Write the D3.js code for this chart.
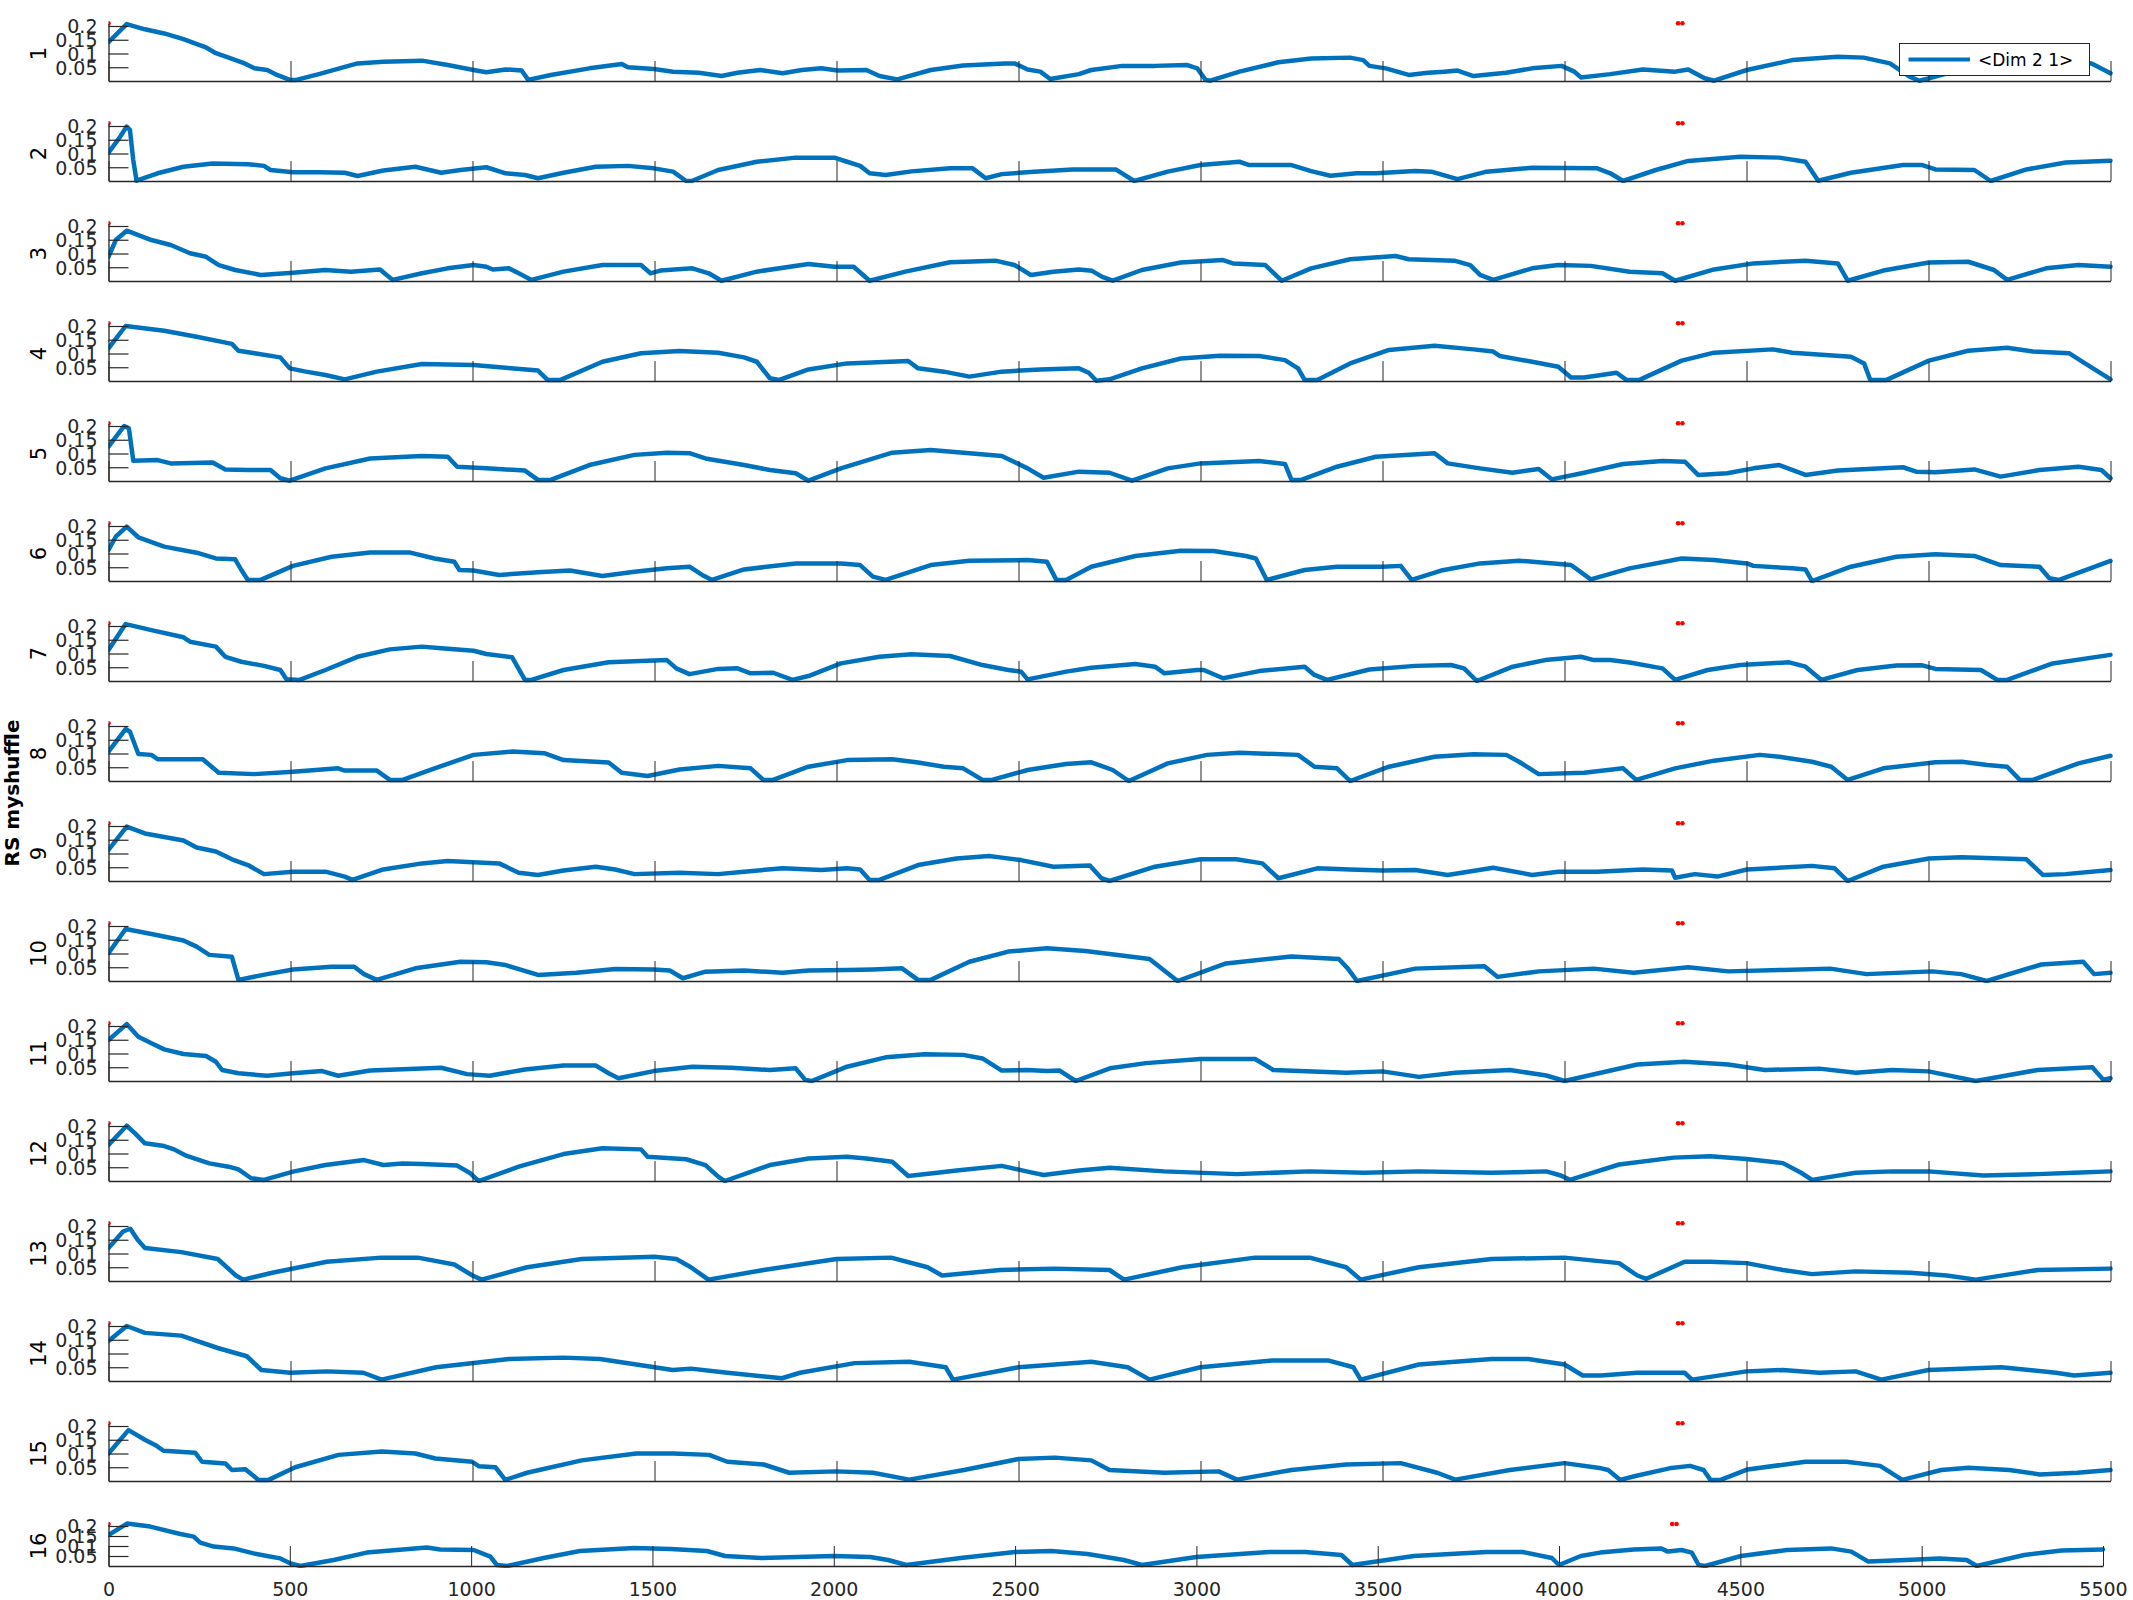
<!DOCTYPE html>
<html><head><meta charset="utf-8">
<script src="https://cdn.jsdelivr.net/npm/d3@7"></script>
<style>body{margin:0;background:#fff}svg{display:block}text{font-family:"DejaVu Sans",sans-serif}</style>
</head><body>
<svg id="chart" width="2133" height="1600"></svg>
<script>
// ---------- data (x = sample index, y = value) ----------
const panelLabels = ["1","2","3","4","5","6","7","8","9","10","11","12","13","14","15","16"];
const xTicks = [0,500,1000,1500,2000,2500,3000,3500,4000,4500,5000,5500];
const yTicks = [0.05,0.1,0.15,0.2];
const yTickLabels = ["0.05","0.1","0.15","0.2"];
const markerX = [0,4312,4324];
const markerY = [0.21,0.21,0.21];
const legendLabel = "<Dim 2 1>";
const yAxisTitle = "RS myshuffle";

const s1 = [[0,0.141],[50,0.207],[100,0.188],[153,0.173],[206,0.152],[241,0.135],[268,0.122],[295,0.101],[330,0.085],[374,0.064],[401,0.046],[436,0.04],[463,0.022],[498,0.004],[516,0.004],[578,0.025],[684,0.064],[755,0.070],[861,0.074],[932,0.058],[1003,0.040],[1038,0.032],[1091,0.042],[1135,0.038],[1153,0.004],[1215,0.022],[1321,0.046],[1410,0.062],[1427,0.05],[1498,0.044],[1551,0.034],[1622,0.030],[1684,0.018],[1728,0.030],[1790,0.040],[1852,0.028],[1905,0.040],[1958,0.046],[2003,0.038],[2082,0.040],[2118,0.018],[2167,0.006],[2259,0.040],[2348,0.056],[2463,0.064],[2489,0.064],[2525,0.042],[2560,0.034],[2587,0.007],[2666,0.025],[2700,0.04],[2785,0.055],[2875,0.055],[2964,0.058],[2991,0.046],[3014,0.004],[3027,0.001],[3107,0.034],[3214,0.068],[3304,0.082],[3411,0.085],[3447,0.076],[3464,0.055],[3509,0.046],[3572,0.022],[3625,0.030],[3670,0.034],[3706,0.038],[3750,0.018],[3840,0.030],[3911,0.046],[3992,0.055],[4027,0.034],[4045,0.013],[4126,0.025],[4215,0.042],[4304,0.034],[4340,0.042],[4385,0.010],[4411,0.001],[4501,0.040],[4626,0.076],[4751,0.088],[4822,0.085],[4894,0.064],[4948,0.016],[4975,0.001],[5019,0.016],[5100,0.045],[5250,0.065],[5380,0.075],[5448,0.064],[5500,0.028]];
const s2 = [[0,0.103],[29,0.155],[50,0.198],[59,0.185],[68,0.076],[77,0.001],[135,0.028],[206,0.052],[286,0.064],[383,0.061],[427,0.055],[445,0.040],[507,0.032],[578,0.032],[649,0.030],[684,0.018],[755,0.038],[843,0.052],[914,0.030],[967,0.040],[1038,0.050],[1091,0.028],[1144,0.022],[1180,0.010],[1250,0.030],[1339,0.052],[1427,0.055],[1498,0.046],[1551,0.034],[1587,0.0],[1604,0.001],[1675,0.040],[1781,0.070],[1888,0.085],[1994,0.085],[2029,0.070],[2065,0.055],[2091,0.028],[2135,0.022],[2206,0.035],[2312,0.046],[2374,0.046],[2410,0.010],[2454,0.025],[2543,0.034],[2649,0.042],[2767,0.042],[2818,0.0],[2910,0.034],[3000,0.058],[3107,0.070],[3134,0.058],[3250,0.058],[3304,0.036],[3357,0.019],[3429,0.028],[3482,0.028],[3590,0.036],[3634,0.034],[3706,0.007],[3786,0.034],[3911,0.048],[4090,0.046],[4126,0.028],[4161,0.0],[4251,0.040],[4340,0.073],[4483,0.088],[4590,0.085],[4662,0.070],[4697,0.001],[4787,0.030],[4930,0.058],[4983,0.058],[5019,0.042],[5126,0.040],[5171,0.0],[5269,0.042],[5377,0.067],[5500,0.074]];
const s3 = [[0,0.088],[20,0.149],[50,0.183],[118,0.149],[171,0.131],[224,0.101],[268,0.088],[303,0.058],[348,0.040],[418,0.022],[507,0.030],[595,0.040],[666,0.034],[746,0.042],[764,0.022],[781,0.004],[861,0.028],[932,0.046],[1003,0.058],[1038,0.052],[1056,0.042],[1100,0.046],[1127,0.028],[1162,0.004],[1250,0.034],[1357,0.058],[1463,0.058],[1489,0.028],[1516,0.038],[1604,0.046],[1649,0.028],[1684,0.001],[1781,0.034],[1923,0.062],[1994,0.052],[2047,0.052],[2091,0.001],[2189,0.034],[2312,0.068],[2436,0.074],[2489,0.058],[2534,0.022],[2596,0.034],[2666,0.042],[2702,0.037],[2730,0.015],[2759,0.001],[2839,0.040],[2946,0.067],[3062,0.076],[3089,0.064],[3178,0.058],[3223,0.001],[3304,0.046],[3411,0.079],[3536,0.091],[3572,0.079],[3697,0.074],[3741,0.058],[3768,0.022],[3804,0.004],[3911,0.046],[3983,0.058],[4072,0.055],[4179,0.034],[4269,0.028],[4304,0.001],[4411,0.042],[4519,0.064],[4662,0.074],[4751,0.064],[4778,0.001],[4876,0.038],[5001,0.067],[5109,0.070],[5180,0.040],[5216,0.004],[5323,0.046],[5412,0.058],[5500,0.052]];
const s4 = [[0,0.119],[47,0.200],[153,0.183],[242,0.161],[339,0.135],[357,0.110],[401,0.101],[472,0.086],[498,0.046],[542,0.034],[596,0.022],[649,0.006],[737,0.034],[861,0.062],[1003,0.058],[1091,0.048],[1180,0.038],[1206,0.004],[1242,0.004],[1357,0.070],[1463,0.101],[1569,0.109],[1675,0.103],[1746,0.086],[1781,0.070],[1817,0.010],[1843,0.004],[1923,0.042],[2029,0.064],[2197,0.073],[2224,0.046],[2295,0.034],[2365,0.016],[2454,0.034],[2560,0.042],[2666,0.046],[2693,0.030],[2714,0.001],[2750,0.006],[2839,0.046],[2946,0.082],[3053,0.092],[3161,0.091],[3232,0.076],[3268,0.046],[3286,0.004],[3321,0.004],[3411,0.064],[3518,0.113],[3643,0.128],[3750,0.115],[3804,0.107],[3822,0.091],[3911,0.070],[3983,0.052],[4018,0.013],[4054,0.013],[4143,0.030],[4170,0.004],[4206,0.004],[4322,0.074],[4411,0.103],[4572,0.115],[4626,0.103],[4787,0.088],[4823,0.064],[4840,0.004],[4885,0.004],[5001,0.074],[5109,0.110],[5216,0.121],[5287,0.107],[5386,0.101],[5430,0.064],[5500,0.006]];
const s5 = [[0,0.125],[43,0.200],[56,0.192],[68,0.074],[135,0.076],[171,0.064],[286,0.067],[321,0.042],[383,0.040],[445,0.040],[472,0.010],[498,0.001],[596,0.046],[719,0.082],[861,0.091],[932,0.088],[958,0.052],[1038,0.046],[1144,0.038],[1180,0.004],[1215,0.004],[1321,0.058],[1445,0.095],[1534,0.103],[1596,0.101],[1640,0.082],[1746,0.058],[1817,0.040],[1888,0.028],[1923,0.001],[2012,0.046],[2153,0.103],[2259,0.113],[2365,0.101],[2454,0.091],[2525,0.046],[2569,0.012],[2666,0.034],[2750,0.030],[2812,0.001],[2910,0.046],[3000,0.064],[3161,0.073],[3232,0.062],[3250,0.004],[3277,0.004],[3375,0.052],[3482,0.088],[3643,0.101],[3679,0.064],[3768,0.046],[3857,0.030],[3929,0.044],[3965,0.006],[4054,0.030],[4161,0.062],[4269,0.073],[4331,0.070],[4367,0.022],[4447,0.028],[4519,0.046],[4590,0.058],[4662,0.022],[4751,0.038],[4930,0.050],[4966,0.034],[5019,0.032],[5126,0.042],[5198,0.016],[5305,0.040],[5412,0.052],[5475,0.040],[5500,0.010]];
const s6 = [[0,0.113],[20,0.161],[50,0.198],[82,0.159],[153,0.125],[242,0.103],[295,0.082],[348,0.079],[365,0.040],[383,0.004],[418,0.004],[507,0.055],[613,0.088],[719,0.104],[826,0.104],[896,0.082],[950,0.070],[964,0.040],[1003,0.038],[1073,0.022],[1180,0.032],[1268,0.038],[1357,0.018],[1445,0.034],[1534,0.046],[1596,0.052],[1631,0.022],[1658,0.004],[1746,0.042],[1888,0.064],[2012,0.064],[2065,0.058],[2100,0.016],[2135,0.004],[2259,0.058],[2365,0.074],[2525,0.076],[2578,0.070],[2604,0.004],[2631,0.004],[2700,0.052],[2821,0.091],[2946,0.110],[3036,0.109],[3125,0.091],[3152,0.082],[3182,0.004],[3286,0.040],[3375,0.052],[3500,0.052],[3550,0.055],[3580,0.004],[3661,0.038],[3768,0.064],[3875,0.074],[4018,0.058],[4072,0.006],[4179,0.046],[4322,0.082],[4411,0.076],[4501,0.064],[4519,0.055],[4626,0.046],[4662,0.042],[4680,0.0],[4787,0.052],[4912,0.088],[5019,0.097],[5126,0.091],[5198,0.058],[5305,0.052],[5332,0.010],[5359,0.004],[5500,0.073]];
const s7 = [[0,0.113],[47,0.207],[118,0.185],[206,0.159],[224,0.143],[295,0.125],[321,0.088],[365,0.070],[427,0.055],[472,0.040],[489,0.006],[525,0.004],[596,0.040],[684,0.088],[773,0.115],[861,0.125],[914,0.119],[1003,0.110],[1038,0.098],[1109,0.086],[1144,0.004],[1162,0.004],[1250,0.040],[1374,0.068],[1534,0.076],[1560,0.046],[1596,0.025],[1675,0.044],[1728,0.046],[1764,0.028],[1826,0.030],[1879,0.004],[1923,0.018],[2012,0.064],[2118,0.088],[2206,0.097],[2312,0.091],[2401,0.058],[2472,0.040],[2507,0.034],[2525,0.006],[2631,0.034],[2700,0.048],[2821,0.062],[2875,0.052],[2901,0.028],[2991,0.040],[3009,0.040],[3062,0.010],[3161,0.036],[3286,0.052],[3313,0.022],[3348,0.004],[3464,0.042],[3590,0.055],[3688,0.058],[3724,0.046],[3759,0.0],[3858,0.052],[3947,0.076],[4045,0.088],[4081,0.076],[4126,0.076],[4179,0.067],[4269,0.046],[4304,0.004],[4393,0.040],[4483,0.058],[4617,0.068],[4662,0.052],[4706,0.004],[4805,0.040],[4912,0.056],[4983,0.057],[5019,0.044],[5144,0.040],[5189,0.004],[5216,0.004],[5341,0.064],[5500,0.095]];
const s8 = [[0,0.107],[47,0.189],[59,0.179],[82,0.098],[118,0.095],[135,0.079],[259,0.079],[303,0.030],[401,0.025],[507,0.034],[631,0.046],[649,0.038],[737,0.038],[773,0.004],[808,0.004],[896,0.046],[1003,0.095],[1109,0.107],[1197,0.101],[1250,0.076],[1374,0.067],[1410,0.030],[1481,0.018],[1569,0.042],[1675,0.055],[1764,0.046],[1799,0.004],[1826,0.004],[1923,0.052],[2029,0.076],[2153,0.079],[2224,0.067],[2295,0.052],[2348,0.046],[2401,0.004],[2427,0.004],[2525,0.040],[2631,0.062],[2700,0.068],[2759,0.040],[2803,0.0],[2910,0.064],[3018,0.095],[3107,0.103],[3268,0.095],[3313,0.052],[3375,0.046],[3411,0.0],[3518,0.052],[3643,0.088],[3750,0.097],[3840,0.095],[3875,0.070],[3929,0.025],[4054,0.030],[4161,0.046],[4197,0.004],[4304,0.046],[4411,0.074],[4537,0.095],[4590,0.088],[4680,0.070],[4733,0.052],[4778,0.004],[4876,0.046],[5019,0.068],[5091,0.070],[5162,0.058],[5216,0.052],[5251,0.004],[5287,0.004],[5412,0.064],[5500,0.092]];
const s9 = [[0,0.113],[50,0.198],[100,0.173],[206,0.147],[242,0.122],[295,0.107],[339,0.079],[383,0.058],[427,0.025],[507,0.034],[596,0.034],[649,0.016],[670,0.004],[755,0.042],[861,0.064],[932,0.073],[1073,0.064],[1127,0.030],[1180,0.022],[1250,0.038],[1339,0.052],[1392,0.042],[1445,0.025],[1569,0.030],[1675,0.025],[1746,0.034],[1852,0.046],[1958,0.040],[2029,0.046],[2065,0.042],[2091,0.004],[2118,0.004],[2224,0.058],[2330,0.082],[2419,0.091],[2454,0.085],[2507,0.076],[2596,0.052],[2696,0.056],[2728,0.010],[2750,0.0],[2875,0.052],[3000,0.079],[3098,0.079],[3170,0.064],[3214,0.010],[3321,0.046],[3411,0.042],[3500,0.038],[3590,0.040],[3679,0.022],[3804,0.048],[3911,0.022],[3983,0.034],[4090,0.034],[4215,0.042],[4295,0.038],[4304,0.012],[4358,0.025],[4420,0.016],[4501,0.042],[4680,0.055],[4742,0.046],[4778,0.0],[4876,0.052],[5001,0.082],[5091,0.086],[5269,0.079],[5314,0.022],[5377,0.025],[5500,0.040]];
const s10 = [[0,0.101],[47,0.189],[118,0.171],[206,0.147],[242,0.125],[277,0.095],[339,0.088],[357,0.004],[436,0.025],[507,0.042],[613,0.052],[675,0.052],[702,0.025],[737,0.004],[843,0.046],[967,0.070],[1038,0.068],[1091,0.058],[1180,0.022],[1286,0.030],[1392,0.044],[1498,0.042],[1542,0.038],[1578,0.010],[1640,0.034],[1746,0.038],[1852,0.030],[1923,0.038],[2029,0.040],[2100,0.042],[2180,0.046],[2224,0.004],[2259,0.004],[2365,0.070],[2472,0.107],[2578,0.119],[2684,0.109],[2800,0.09],[2860,0.08],[2937,0.0],[3070,0.064],[3250,0.089],[3380,0.08],[3405,0.045],[3430,0.0],[3590,0.045],[3780,0.054],[3816,0.015],[3930,0.035],[4080,0.045],[4190,0.03],[4340,0.05],[4450,0.035],[4600,0.04],[4730,0.045],[4830,0.025],[5010,0.035],[5090,0.025],[5160,0.0],[5310,0.06],[5425,0.07],[5455,0.025],[5500,0.03]];
const s11 = [[0,0.149],[50,0.207],[82,0.161],[118,0.137],[153,0.115],[206,0.098],[268,0.091],[295,0.070],[312,0.040],[357,0.028],[436,0.019],[507,0.028],[587,0.036],[631,0.019],[719,0.038],[826,0.044],[914,0.048],[985,0.025],[1047,0.019],[1144,0.042],[1250,0.056],[1339,0.056],[1374,0.028],[1401,0.010],[1498,0.036],[1604,0.052],[1711,0.048],[1817,0.040],[1888,0.046],[1914,0.004],[1932,0.0],[2029,0.052],[2135,0.086],[2242,0.097],[2348,0.095],[2401,0.082],[2454,0.038],[2525,0.040],[2578,0.036],[2613,0.038],[2657,0.0],[2751,0.046],[2850,0.065],[3000,0.08],[3150,0.08],[3200,0.04],[3400,0.03],[3500,0.035],[3600,0.015],[3700,0.03],[3850,0.04],[3950,0.02],[4000,0.0],[4200,0.06],[4330,0.07],[4450,0.06],[4550,0.04],[4700,0.045],[4800,0.03],[4900,0.04],[5000,0.035],[5130,0.0],[5300,0.04],[5450,0.05],[5480,0.005],[5500,0.01]];
const s12 = [[0,0.131],[50,0.201],[73,0.173],[100,0.137],[153,0.127],[180,0.115],[215,0.091],[277,0.064],[330,0.052],[357,0.042],[392,0.010],[427,0.004],[507,0.034],[596,0.058],[702,0.076],[755,0.058],[808,0.064],[861,0.062],[958,0.056],[994,0.028],[1017,0.0],[1127,0.052],[1250,0.098],[1357,0.119],[1463,0.115],[1481,0.088],[1587,0.079],[1640,0.058],[1675,0.016],[1693,0.0],[1817,0.058],[1923,0.082],[2029,0.088],[2082,0.082],[2153,0.070],[2197,0.018],[2277,0.030],[2330,0.038],[2454,0.055],[2525,0.034],[2569,0.022],[2666,0.038],[2751,0.048],[2900,0.035],[3100,0.025],[3300,0.035],[3450,0.03],[3600,0.035],[3800,0.03],[3950,0.035],[3990,0.02],[4015,0.004],[4150,0.06],[4300,0.085],[4400,0.09],[4500,0.08],[4600,0.065],[4650,0.03],[4680,0.004],[4800,0.03],[4900,0.035],[5000,0.035],[5150,0.02],[5300,0.025],[5400,0.03],[5500,0.035]];
const s13 = [[0,0.12],[40,0.18],[60,0.19],[80,0.15],[100,0.12],[200,0.105],[300,0.08],[350,0.02],[370,0.005],[450,0.03],[600,0.07],[750,0.085],[850,0.085],[950,0.06],[1000,0.02],[1025,0.005],[1150,0.05],[1300,0.08],[1500,0.088],[1560,0.08],[1600,0.05],[1648,0.005],[1800,0.04],[2000,0.08],[2150,0.085],[2250,0.05],[2290,0.02],[2450,0.04],[2600,0.045],[2750,0.04],[2790,0.005],[2950,0.05],[3150,0.085],[3300,0.085],[3400,0.05],[3440,0.005],[3600,0.05],[3800,0.08],[4000,0.085],[4150,0.065],[4200,0.02],[4225,0.008],[4330,0.07],[4400,0.07],[4500,0.065],[4600,0.04],[4680,0.025],[4800,0.035],[4950,0.03],[5050,0.02],[5130,0.005],[5300,0.04],[5500,0.045]];
const s14 = [[0,0.145],[50,0.2],[100,0.175],[200,0.165],[300,0.12],[380,0.09],[420,0.04],[500,0.03],[600,0.035],[700,0.03],[750,0.005],[900,0.05],[1100,0.08],[1250,0.085],[1350,0.08],[1450,0.06],[1550,0.04],[1600,0.045],[1700,0.03],[1850,0.01],[1900,0.03],[2050,0.065],[2200,0.07],[2300,0.05],[2320,0.005],[2500,0.05],[2700,0.07],[2800,0.05],[2860,0.005],[3000,0.05],[3200,0.075],[3350,0.075],[3420,0.05],[3440,0.005],[3600,0.06],[3800,0.08],[3900,0.08],[4000,0.06],[4050,0.02],[4100,0.02],[4200,0.03],[4330,0.03],[4350,0.005],[4500,0.035],[4600,0.04],[4700,0.03],[4800,0.035],[4870,0.005],[5000,0.04],[5200,0.05],[5350,0.03],[5400,0.02],[5500,0.03]];
const s15 = [[0,0.1],[55,0.185],[101,0.149],[128,0.131],[151,0.11],[238,0.103],[257,0.07],[321,0.064],[339,0.04],[376,0.043],[412,0.004],[440,0.004],[513,0.05],[632,0.095],[751,0.107],[843,0.1],[898,0.082],[999,0.07],[1017,0.054],[1063,0.05],[1090,0.004],[1150,0.03],[1300,0.075],[1450,0.1],[1550,0.1],[1650,0.095],[1700,0.07],[1800,0.06],[1870,0.03],[2000,0.035],[2100,0.03],[2200,0.005],[2350,0.04],[2500,0.08],[2600,0.085],[2700,0.075],[2750,0.04],[2900,0.03],[3050,0.035],[3100,0.005],[3250,0.04],[3400,0.06],[3550,0.065],[3650,0.03],[3700,0.005],[3850,0.04],[4000,0.065],[4101,0.046],[4120,0.04],[4153,0.004],[4195,0.018],[4288,0.046],[4345,0.055],[4382,0.04],[4401,0.004],[4429,0.004],[4503,0.042],[4662,0.07],[4774,0.07],[4867,0.055],[4928,0.004],[5035,0.04],[5110,0.048],[5222,0.04],[5306,0.024],[5409,0.03],[5500,0.04]];
const s16 = [[0,0.155],[51,0.212],[115,0.197],[198,0.16],[235,0.147],[253,0.117],[290,0.097],[345,0.088],[400,0.063],[437,0.05],[474,0.038],[502,0.013],[529,0.0],[621,0.03],[712,0.067],[878,0.093],[915,0.083],[1007,0.08],[1053,0.047],[1071,0.005],[1100,0.0],[1200,0.04],[1300,0.075],[1450,0.09],[1550,0.085],[1650,0.075],[1700,0.05],[1800,0.04],[1900,0.045],[2000,0.05],[2100,0.045],[2150,0.03],[2200,0.005],[2350,0.04],[2500,0.07],[2600,0.075],[2700,0.06],[2800,0.03],[2850,0.005],[3000,0.045],[3200,0.07],[3300,0.07],[3400,0.055],[3430,0.005],[3600,0.05],[3800,0.07],[3900,0.07],[3980,0.04],[4000,0.005],[4060,0.05],[4113,0.067],[4206,0.083],[4281,0.088],[4300,0.072],[4338,0.08],[4366,0.067],[4385,0.005],[4403,0.0],[4502,0.05],[4628,0.08],[4750,0.088],[4806,0.072],[4853,0.022],[4956,0.03],[5049,0.038],[5124,0.03],[5152,0.0],[5283,0.055],[5386,0.077],[5500,0.083]];

const allSeries = [s1,s2,s3,s4,s5,s6,s7,s8,s9,s10,s11,s12,s13,s14,s15,s16];

// ---------- drawing ----------
const svg = d3.select("#chart");
const AX = "#262626", BLUE = "#0072BD";

allSeries.forEach((data, i) => {
  const last = i === 15;
  const base = last ? 1566 : 81 + 100 * i;
  const pxPerUnit = last ? 200 : 275;
  const x0 = 108.5, x1 = last ? 2103 : 2110.5;
  const x = d3.scaleLinear().domain([0, 5500]).range([x0, x1]);
  const y = d3.scaleLinear().domain([0, 0.21]).range([base, base - 0.21 * pxPerUnit]);
  const g = svg.append("g");

  const clipId = "clip" + i;
  g.append("clipPath").attr("id", clipId).append("rect")
    .attr("x", x0).attr("y", y(0.21) - 4).attr("width", x1 - x0 + 4).attr("height", base - y(0.21) + 6);

  // data line
  g.append("path").datum(data)
    .attr("clip-path", `url(#${clipId})`)
    .attr("fill", "none").attr("stroke", BLUE).attr("stroke-width", 4.5)
    .attr("stroke-linejoin", "round").attr("stroke-linecap", "round")
    .attr("d", d3.line().x(d => x(d[0])).y(d => y(d[1])));

  // red markers
  g.selectAll("circle.m").data(markerX.map((mx, k) => [mx, markerY[k]])).join("circle")
    .attr("clip-path", `url(#${clipId})`)
    .attr("cx", d => x(d[0])).attr("cy", d => y(d[1])).attr("r", 2.3).attr("fill", "#FF0000");

  // x axis (ticks inside, length 20)
  const xa = g.append("g").attr("transform", `translate(0,${base})`)
    .call(d3.axisBottom(x).tickValues(xTicks).tickSize(-20).tickSizeOuter(0).tickFormat(last ? d3.format("d") : () => ""));
  xa.select(".domain").attr("stroke", AX).attr("stroke-width", 1.3);
  xa.selectAll(".tick line").attr("stroke", AX).attr("stroke-width", 1);
  xa.selectAll(".tick text").attr("fill", AX).attr("font-size", 19).attr("font-family", "DejaVu Sans")
    .attr("y", 17).attr("dy", "0.71em");

  // y axis (ticks inside, length 20)
  const ya = g.append("g").attr("transform", `translate(${x0},0)`)
    .call(d3.axisLeft(y).tickValues(yTicks).tickSize(-20).tickSizeOuter(0)
      .tickFormat((d, k) => yTickLabels[k]));
  ya.select(".domain").attr("stroke", AX).attr("stroke-width", 1.3);
  ya.selectAll(".tick line").attr("stroke", AX).attr("stroke-width", 1.2);
  ya.selectAll(".tick text").attr("fill", AX).attr("font-size", 19).attr("font-family", "DejaVu Sans")
    .attr("x", -11).attr("dy", "0.36em");

  // panel label
  const cy = (base + y(0.2)) / 2;
  g.append("text").attr("transform", `translate(46,${cy}) rotate(-90)`)
    .attr("text-anchor", "middle").attr("font-size", 21).attr("fill", "#000")
    .text(panelLabels[i]);
});

// overall y-axis title
svg.append("text").attr("transform", "translate(19,793) rotate(-90)")
  .attr("text-anchor", "middle").attr("font-size", 20).attr("font-weight", "bold").attr("fill", "#000")
  .text(yAxisTitle);

// legend (panel 1)
const lg = svg.append("g");
lg.append("rect").attr("x", 1899.5).attr("y", 43.5).attr("width", 190).attr("height", 32)
  .attr("fill", "#fff").attr("stroke", AX).attr("stroke-width", 1);
lg.append("line").attr("x1", 1908.5).attr("x2", 1970).attr("y1", 59.5).attr("y2", 59.5)
  .attr("stroke", BLUE).attr("stroke-width", 4);
lg.append("text").attr("x", 1978).attr("y", 59.5).attr("dy", "0.36em")
  .attr("font-size", 17).attr("fill", "#000").text(legendLabel);
</script>
</body></html>
